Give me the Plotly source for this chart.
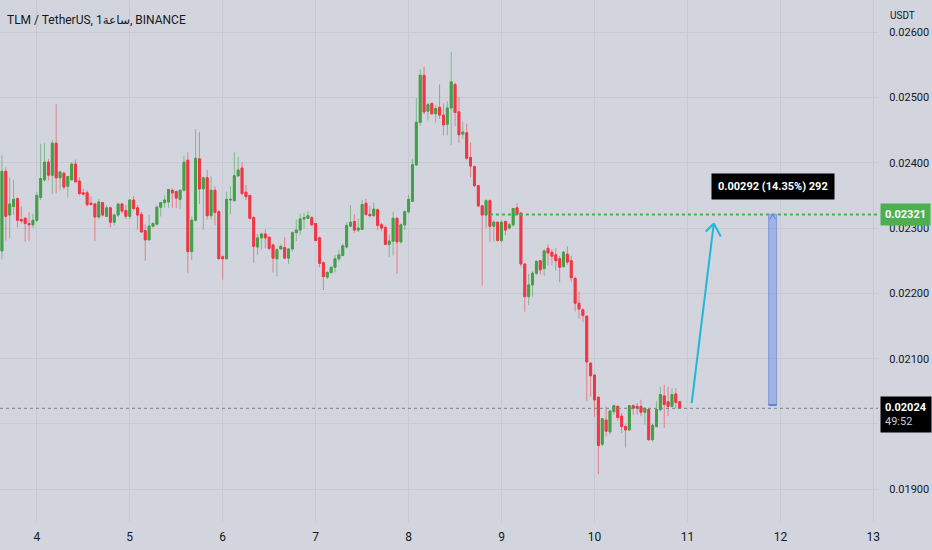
import numpy as np
import pandas as pd
import plotly.graph_objects as go

# TLM / USDT, 1h candles, prices in ticks of 0.00001 USDT
OPEN = [2265, 2387, 2320, 2333, 2345, 2313, 2315, 2307, 2305, 2312,
        2347, 2374, 2401, 2381, 2430, 2377, 2384, 2364, 2374, 2398,
        2372, 2354, 2354, 2338, 2337, 2317, 2339, 2318, 2331, 2309,
        2320, 2337, 2327, 2318, 2343, 2331, 2321, 2296, 2282, 2303,
        2306, 2332, 2339, 2340, 2358, 2356, 2344, 2358, 2404, 2264,
        2312, 2406, 2360, 2377, 2319, 2358, 2325, 2256, 2253, 2343,
        2342, 2380, 2392, 2355, 2350, 2316, 2271, 2285, 2291, 2286,
        2274, 2253, 2268, 2270, 2254, 2268, 2293, 2297, 2314, 2315,
        2316, 2307, 2285, 2247, 2225, 2232, 2240, 2253, 2258, 2271,
        2303, 2310, 2297, 2298, 2338, 2321, 2319, 2328, 2305, 2301,
        2275, 2280, 2315, 2279, 2305, 2325, 2341, 2397, 2462, 2534,
        2479, 2491, 2475, 2485, 2473, 2459, 2484, 2520, 2478, 2444,
        2446, 2408, 2394, 2365, 2334, 2320, 2342, 2303, 2309, 2281,
        2310, 2300, 2305, 2331, 2323, 2245, 2195, 2213, 2231, 2250,
        2238, 2269, 2263, 2259, 2253, 2241, 2260, 2250, 2223, 2185,
        2175, 2165, 2093, 2075, 2041, 1969, 2006, 1988, 2019, 2027,
        2012, 1996, 1991, 2028, 2027, 2027, 2018, 2022, 1976, 1996,
        2022, 2043, 2034, 2027, 2046, 2034]
HIGH = [2411, 2393, 2377, 2374, 2347, 2333, 2317, 2324, 2322, 2355,
        2429, 2430, 2406, 2435, 2490, 2388, 2386, 2380, 2401, 2405,
        2378, 2360, 2358, 2348, 2338, 2345, 2340, 2335, 2333, 2322,
        2338, 2338, 2335, 2344, 2349, 2335, 2325, 2306, 2320, 2309,
        2335, 2340, 2350, 2360, 2361, 2358, 2359, 2411, 2416, 2318,
        2451, 2447, 2378, 2389, 2379, 2364, 2328, 2258, 2356, 2364,
        2416, 2409, 2401, 2366, 2351, 2318, 2291, 2293, 2298, 2288,
        2277, 2269, 2275, 2286, 2269, 2295, 2313, 2322, 2323, 2326,
        2318, 2308, 2287, 2249, 2234, 2241, 2259, 2267, 2276, 2309,
        2335, 2321, 2315, 2343, 2345, 2334, 2339, 2330, 2308, 2304,
        2290, 2325, 2317, 2307, 2327, 2351, 2406, 2499, 2543, 2547,
        2492, 2492, 2488, 2520, 2491, 2494, 2570, 2523, 2501, 2462,
        2460, 2431, 2396, 2366, 2336, 2344, 2344, 2312, 2310, 2312,
        2312, 2308, 2331, 2338, 2324, 2246, 2230, 2234, 2251, 2251,
        2268, 2275, 2267, 2269, 2257, 2265, 2272, 2258, 2226, 2203,
        2177, 2166, 2095, 2076, 2042, 2009, 2027, 2020, 2029, 2028,
        2017, 1999, 2029, 2030, 2032, 2037, 2025, 2024, 2000, 2035,
        2057, 2060, 2057, 2055, 2055, 2035]
LOW = [2252, 2281, 2284, 2320, 2301, 2307, 2279, 2280, 2301, 2309,
       2343, 2371, 2373, 2352, 2353, 2358, 2359, 2347, 2373, 2369,
       2350, 2350, 2333, 2335, 2280, 2314, 2318, 2317, 2301, 2304,
       2317, 2323, 2314, 2314, 2327, 2298, 2293, 2250, 2281, 2301,
       2304, 2318, 2331, 2331, 2331, 2331, 2329, 2356, 2231, 2251,
       2310, 2337, 2297, 2313, 2313, 2304, 2253, 2221, 2252, 2321,
       2341, 2379, 2350, 2343, 2313, 2247, 2259, 2267, 2269, 2266,
       2232, 2226, 2267, 2253, 2245, 2264, 2280, 2290, 2299, 2314,
       2303, 2280, 2240, 2205, 2222, 2230, 2232, 2249, 2257, 2269,
       2302, 2293, 2294, 2297, 2319, 2316, 2317, 2297, 2295, 2274,
       2256, 2258, 2230, 2276, 2297, 2322, 2340, 2395, 2457, 2474,
       2465, 2474, 2462, 2467, 2442, 2442, 2427, 2456, 2431, 2437,
       2404, 2378, 2363, 2332, 2212, 2300, 2279, 2279, 2279, 2278,
       2289, 2298, 2302, 2319, 2241, 2172, 2182, 2195, 2228, 2229,
       2227, 2243, 2243, 2235, 2217, 2240, 2244, 2217, 2172, 2161,
       2156, 2035, 2042, 2011, 1923, 1966, 1981, 1984, 2014, 2005,
       1986, 1964, 1990, 2014, 2014, 2012, 1999, 1974, 1973, 1995,
       2019, 1994, 2012, 2025, 2024, 2023]
CLOSE = [2387, 2318, 2337, 2344, 2312, 2311, 2307, 2305, 2312, 2350,
         2376, 2401, 2381, 2430, 2377, 2386, 2363, 2379, 2398, 2371,
         2353, 2352, 2336, 2336, 2317, 2340, 2320, 2331, 2309, 2320,
         2337, 2326, 2318, 2343, 2330, 2320, 2294, 2282, 2303, 2307,
         2332, 2339, 2343, 2359, 2354, 2346, 2358, 2401, 2264, 2312,
         2407, 2360, 2377, 2319, 2358, 2324, 2253, 2253, 2344, 2344,
         2380, 2389, 2353, 2348, 2315, 2272, 2285, 2291, 2285, 2269,
         2254, 2267, 2272, 2254, 2268, 2293, 2297, 2314, 2316, 2319,
         2305, 2281, 2246, 2226, 2232, 2240, 2253, 2259, 2273, 2304,
         2309, 2297, 2300, 2336, 2321, 2319, 2329, 2304, 2300, 2275,
         2280, 2315, 2279, 2305, 2325, 2344, 2397, 2462, 2534, 2478,
         2489, 2475, 2483, 2473, 2458, 2484, 2524, 2477, 2443, 2447,
         2407, 2395, 2365, 2334, 2320, 2342, 2303, 2309, 2281, 2309,
         2297, 2305, 2330, 2321, 2245, 2195, 2213, 2231, 2249, 2236,
         2265, 2262, 2257, 2250, 2240, 2263, 2248, 2224, 2185, 2176,
         2166, 2095, 2074, 2037, 1967, 2008, 1989, 2020, 2028, 2010,
         1996, 1991, 2028, 2024, 2024, 2018, 2024, 1976, 1998, 2022,
         2045, 2030, 2027, 2045, 2033, 2024]

FIRST_BAR = "2023-05-03 15:00"
X_RANGE = ["2023-05-03 14:30", "2023-05-13 01:12"]
DAY_TICKS = ["2023-05-%02d" % d for d in range(4, 14)]
DAY_LABELS = ["4", "5", "6", "7", "8", "9", "10", "11", "12", "13"]
PRICE_TICKS = [0.019, 0.020, 0.021, 0.022, 0.023, 0.024, 0.025, 0.026]
# 0.02000 is hidden behind the last-price label on the original
PRICE_LABELS = ["0.01900", "", "0.02100", "0.02200", "0.02300",
                "0.02400", "0.02500", "0.02600"]
Y_RANGE = [0.018499, 0.026493]

TITLE = "TLM / TetherUS, 1ساعة, BINANCE"
TARGET = 0.02321          # green dotted level
LAST = 0.02024            # last price line
COUNTDOWN = "49:52"
MEASURE_TIME = "2023-05-11 22:00"
MEASURE_LOW = 0.02029
MEASURE_TEXT = "0.00292 (14.35%) 292"
ARROW_FROM = ("2023-05-11 01:06", 0.02032)
ARROW_TO = ("2023-05-11 06:48", 0.02307)
LEVEL_START = 126         # bar index where the dotted level begins

BG = "#d2d5dd"
GRID = "#c7cad2"
TXT = "#131722"
UP = "#43a047"
DOWN = "#f23645"
CYAN = "#1fb8d8"

o = np.array(OPEN) * 1e-5
h = np.array(HIGH) * 1e-5
l = np.array(LOW) * 1e-5
c = np.array(CLOSE) * 1e-5
t = pd.date_range(FIRST_BAR, periods=len(OPEN), freq="h")

fig = go.Figure()
# wicks (lighter)
fig.add_trace(go.Candlestick(
    x=t, open=o, high=h, low=l, close=c,
    increasing=dict(line=dict(color="rgba(67,160,71,0.55)", width=1),
                    fillcolor="rgba(67,160,71,0.55)"),
    decreasing=dict(line=dict(color="rgba(242,54,69,0.55)", width=1),
                    fillcolor="rgba(242,54,69,0.55)"),
    hoverinfo="skip"))
# bodies
fig.add_trace(go.Candlestick(
    x=t, open=o, close=c, high=np.maximum(o, c), low=np.minimum(o, c),
    increasing=dict(line=dict(color=UP, width=1), fillcolor=UP),
    decreasing=dict(line=dict(color=DOWN, width=1), fillcolor=DOWN)))

shapes = [
    dict(type="line", xref="paper", x0=0, x1=1, yref="y", y0=LAST, y1=LAST,
         line=dict(color="#7b7e88", width=1, dash="dot")),
    dict(type="line", xref="x", x0=t[LEVEL_START], x1=X_RANGE[1], yref="y",
         y0=TARGET, y1=TARGET, line=dict(color="#4caf50", width=2, dash="dot")),
    # cyan arrow
    dict(type="line", x0=ARROW_FROM[0], y0=ARROW_FROM[1], x1=ARROW_TO[0],
         y1=ARROW_TO[1], line=dict(color=CYAN, width=2)),
    dict(type="line", xsizemode="pixel", ysizemode="pixel", xanchor=ARROW_TO[0],
         yanchor=ARROW_TO[1], x0=0, y0=0, x1=-8, y1=-8, line=dict(color=CYAN, width=2)),
    dict(type="line", xsizemode="pixel", ysizemode="pixel", xanchor=ARROW_TO[0],
         yanchor=ARROW_TO[1], x0=0, y0=0, x1=7, y1=-13, line=dict(color=CYAN, width=2)),
    # price range measure
    dict(type="rect", xsizemode="pixel", xanchor=MEASURE_TIME, x0=-4, x1=4,
         y0=MEASURE_LOW, y1=TARGET, fillcolor="rgba(120,150,232,0.55)",
         line=dict(color="#7f98e0", width=1)),
    dict(type="line", xsizemode="pixel", ysizemode="pixel", xanchor=MEASURE_TIME,
         yanchor=TARGET, x0=0, y0=0, x1=-3, y1=-5, line=dict(color="#5f7fd6", width=1)),
    dict(type="line", xsizemode="pixel", ysizemode="pixel", xanchor=MEASURE_TIME,
         yanchor=TARGET, x0=0, y0=0, x1=3, y1=-5, line=dict(color="#5f7fd6", width=1)),
    dict(type="line", xsizemode="pixel", ysizemode="pixel", xanchor=MEASURE_TIME,
         yanchor=MEASURE_LOW, x0=-4, y0=0, x1=4, y1=0, line=dict(color="#5f7fd6", width=2)),
]

font = "Roboto, DejaVu Sans, sans-serif"
annotations = [
    dict(xref="paper", yref="paper", x=0, y=1, xshift=5, yshift=-20,
         xanchor="left", yanchor="middle", showarrow=False, text=TITLE,
         font=dict(size=12, color=TXT, family=font)),
    dict(xref="paper", yref="paper", x=1, y=1, xshift=10, yshift=-15,
         xanchor="left", yanchor="middle", showarrow=False, text="USDT",
         font=dict(size=10, color=TXT, family=font)),
    dict(xref="paper", yref="y", x=1, y=TARGET, xshift=2, xanchor="left",
         yanchor="middle", showarrow=False, text="<b>0.02321</b>",
         bgcolor="#4caf50", borderpad=4, font=dict(size=11, color="white", family=font)),
    dict(xref="paper", yref="y", x=1, y=LAST, xshift=2, yshift=-6, xanchor="left",
         yanchor="middle", showarrow=False, align="left",
         text="<b>0.02024</b><br><span style='color:#c9ccd4'>" + COUNTDOWN + "</span>",
         bgcolor="#000000", borderpad=4, font=dict(size=11, color="white", family=font)),
    dict(xref="x", yref="y", x=MEASURE_TIME, y=TARGET, yshift=28, xanchor="center",
         yanchor="middle", showarrow=False, text="<b>" + MEASURE_TEXT + "</b>",
         bgcolor="#000000", borderpad=6, font=dict(size=11, color="white", family=font)),
]

fig.update_layout(
    width=932, height=550, autosize=False,
    margin=dict(l=0, r=54, t=0, b=28, autoexpand=False),
    paper_bgcolor=BG, plot_bgcolor=BG,
    showlegend=False, shapes=shapes, annotations=annotations,
    font=dict(family=font, color=TXT),
    xaxis=dict(type="date", range=X_RANGE, tickvals=DAY_TICKS, ticktext=DAY_LABELS,
               showgrid=True, gridcolor=GRID, zeroline=False, showline=False,
               rangeslider=dict(visible=False), ticks="outside", ticklen=4,
               tickcolor=BG, tickfont=dict(size=12, color=TXT), automargin=False),
    yaxis=dict(side="right", range=Y_RANGE, tickvals=PRICE_TICKS, ticktext=PRICE_LABELS,
               showgrid=True, gridcolor=GRID, zeroline=False, showline=False,
               ticks="outside", ticklen=8, tickcolor=BG, automargin=False,
               tickfont=dict(size=11, color=TXT)),
)

fig.write_html("out.html", config={"displayModeBar": False},
               post_script="document.body.style.margin='0';document.body.style.overflow='hidden';")
